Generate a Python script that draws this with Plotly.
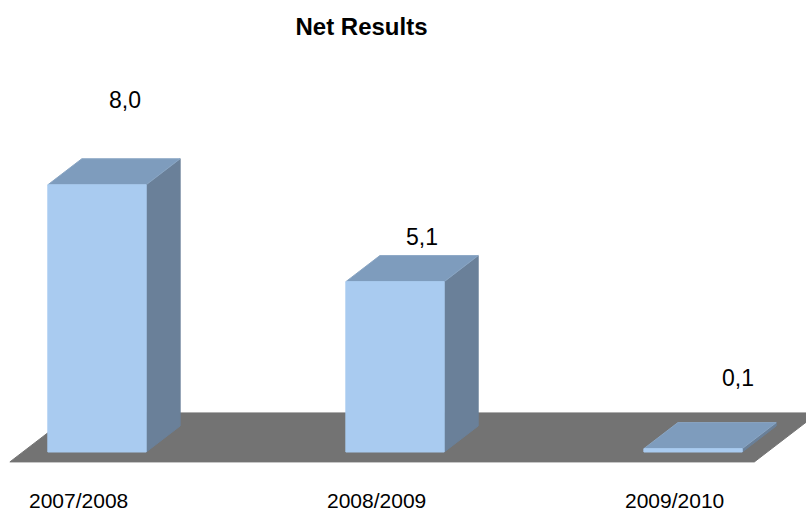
import plotly.graph_objects as go

# ---- data ----
seasons = ["2007/2008", "2008/2009", "2009/2010"]
net_results = [8.0, 5.1, 0.1]
value_labels = ["8,0", "5,1", "0,1"]

# ---- 3D-look geometry (axis units) ----
BAR_HALF = 0.165          # half width of a bar's front face
DEPTH_X = 0.114           # horizontal shift of one bar depth
DEPTH_Y = 0.78            # vertical shift of one bar depth
FLOOR_NEAR = -0.38        # floor front edge, in bar depths
FLOOR_FAR = 1.5           # floor back edge, in bar depths
FLOOR_PAD = 0.249         # floor overhang beyond first/last bar centre

# label placement offsets
label_dx = [0.094, 0.09, 0.15]
label_dy = [2.54, 1.34, 2.12]
tick_dx = -0.062
tick_y = -1.44

X_RANGE = [-0.3255, 2.379]
Y_RANGE = [-1.796, 13.533]

FRONT = "#A9CBF0"
TOP = "#7E9CBD"
SIDE = "#6A8099"
FLOOR = "#737373"
FONT = "Liberation Sans, Arial, sans-serif"

fig = go.Figure()


def poly(xs, ys, fill, line=None):
    fig.add_trace(go.Scatter(
        x=xs + [xs[0]], y=ys + [ys[0]], mode="lines", fill="toself",
        fillcolor=fill, line=dict(color=line or fill, width=1),
        hoverinfo="skip", showlegend=False))


def shift(x, y, d):
    return x + d * DEPTH_X, y + d * DEPTH_Y


# floor plate
n = len(net_results)
fl, fr = -FLOOR_PAD, (n - 1) + FLOOR_PAD
pts = [shift(fl, 0, FLOOR_NEAR), shift(fr, 0, FLOOR_NEAR),
       shift(fr, 0, FLOOR_FAR), shift(fl, 0, FLOOR_FAR)]
poly([p[0] for p in pts], [p[1] for p in pts], FLOOR)

# bars: side, top, front
for i, v in enumerate(net_results):
    x0, x1 = i - BAR_HALF, i + BAR_HALF
    # right side face
    a, b = shift(x1, 0, 1), shift(x1, v, 1)
    poly([x1, a[0], b[0], x1], [0, a[1], b[1], v], SIDE)
    # top face
    c, d = shift(x0, v, 1), shift(x1, v, 1)
    poly([x0, x1, d[0], c[0]], [v, v, d[1], c[1]], TOP, "#8AA6C4")
    # front face
    poly([x0, x1, x1, x0], [0, 0, v, v], FRONT)

annotations = []
for i, (v, lab) in enumerate(zip(net_results, value_labels)):
    annotations.append(dict(
        x=i + label_dx[i], y=v + label_dy[i], text=lab, showarrow=False,
        xanchor="center", yanchor="middle",
        font=dict(family=FONT, size=23, color="#000000")))
for i, s in enumerate(seasons):
    annotations.append(dict(
        x=i + tick_dx, y=tick_y, text=s, showarrow=False,
        xanchor="center", yanchor="middle",
        font=dict(family=FONT, size=21, color="#000000")))

fig.update_layout(
    width=806, height=512,
    margin=dict(l=0, r=0, t=0, b=0),
    paper_bgcolor="white", plot_bgcolor="white",
    xaxis=dict(range=X_RANGE, visible=False, fixedrange=True),
    yaxis=dict(range=Y_RANGE, visible=False, fixedrange=True),
    title=dict(text="<b>Net Results</b>", x=361.5 / 806, xanchor="center",
               y=1 - 27 / 512, yanchor="middle",
               font=dict(family=FONT, size=24, color="#000000")),
    annotations=annotations,
)

fig.write_html("out.html")
